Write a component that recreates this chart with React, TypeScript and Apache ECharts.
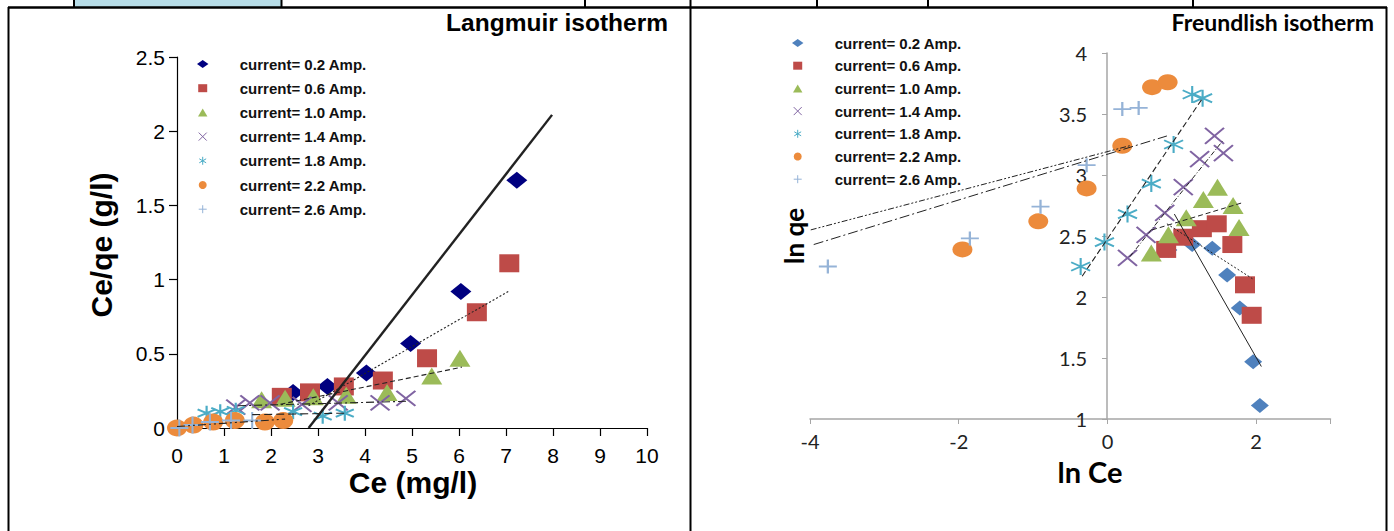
import React, { useEffect, useRef } from "react";
import * as echarts from "echarts";

// ---------- DATA ----------
const CURRENTS = [
  "current= 0.2 Amp.",
  "current= 0.6 Amp.",
  "current= 1.0 Amp.",
  "current= 1.4 Amp.",
  "current= 1.8 Amp.",
  "current= 2.2 Amp.",
  "current= 2.6 Amp.",
];

// Langmuir isotherm: [Ce (mg/l), Ce/qe (g/l)]
const lang02 = [[2.47, 0.24], [3.2, 0.28], [4.03, 0.37], [4.97, 0.57], [6.04, 0.92], [7.23, 1.67]];
const lang06 = [[2.23, 0.21], [2.83, 0.24], [3.55, 0.28], [4.38, 0.32], [5.32, 0.47], [6.38, 0.78], [7.07, 1.11]];
const lang10 = [[1.8, 0.19], [2.3, 0.2], [2.9, 0.21], [3.6, 0.22], [4.47, 0.24], [5.42, 0.35], [6.02, 0.47]];
const lang14 = [[1.25, 0.14], [1.55, 0.17], [1.98, 0.17], [2.66, 0.16], [3.43, 0.17], [4.32, 0.17], [4.87, 0.2]];
const lang18 = [[0.63, 0.1], [0.92, 0.11], [1.25, 0.12], [2.47, 0.11], [3.1, 0.08], [3.57, 0.1]];
const lang22 = [[0.0, 0.0], [0.35, 0.02], [0.77, 0.04], [1.23, 0.05], [1.87, 0.04], [2.26, 0.05]];
const lang26 = [[0.05, 0.0], [0.33, 0.02], [0.7, 0.04], [1.15, 0.05], [1.6, 0.05]];

// Langmuir trend lines (end points)
const langTrend02 = [[2.8, 0], [7.98, 2.11]];
const langTrend06 = [[2.8, 0.15], [7.05, 0.92]];
const langTrend10 = [[2.2, 0.16], [6.06, 0.41]];
const langTrend14 = [[1.3, 0.15], [4.9, 0.18]];
const langTrend18 = [[1.6, 0.09], [3.6, 0.1]];
const langTrend22 = [[0.0, 0.01], [2.3, 0.06]];

// Freundlich isotherm: [ln Ce, ln qe]
const freu02 = [[0.82, 2.385], [1.14, 2.43], [1.41, 2.4], [1.61, 2.18], [1.78, 1.91], [1.96, 1.47], [2.05, 1.11]];
const freu06 = [[0.79, 2.39], [1.02, 2.49], [1.27, 2.56], [1.47, 2.6], [1.68, 2.43], [1.85, 2.1], [1.94, 1.85]];
const freu10 = [[0.59, 2.36], [0.82, 2.51], [1.06, 2.65], [1.29, 2.8], [1.48, 2.9], [1.69, 2.75], [1.77, 2.57]];
const freu14 = [[0.27, 2.32], [0.52, 2.51], [0.77, 2.69], [1.02, 2.9], [1.24, 3.13], [1.44, 3.32], [1.56, 3.18]];
const freu18 = [[-0.36, 2.25], [-0.04, 2.45], [0.27, 2.68], [0.59, 2.93], [0.89, 3.25], [1.14, 3.66], [1.28, 3.63]];
const freu22 = [[-1.95, 2.39], [-0.93, 2.62], [-0.28, 2.89], [0.2, 3.24], [0.6, 3.72], [0.81, 3.76]];
const freu26 = [[-3.76, 2.25], [-1.85, 2.48], [-0.9, 2.74], [-0.28, 3.08], [0.2, 3.54], [0.42, 3.55]];

// Freundlich trend lines (end points)
const freuTrend02 = [[0.9, 2.68], [2.07, 1.43]];
const freuTrend06 = [[0.8, 2.6], [1.95, 2.15]];
const freuTrend10 = [[0.6, 2.55], [1.8, 2.77]];
const freuTrend14 = [[0.3, 2.33], [1.55, 3.28]];
const freuTrend18 = [[-0.34, 2.17], [1.28, 3.63]];
const freuTrend22 = [[-3.95, 2.43], [0.8, 3.32]];
const freuTrend26 = [[-3.99, 2.55], [0.3, 3.24]];

// ---------- STYLES ----------
const X_MARK = "path://M0,0L10,10M10,0L0,10";
const STAR_MARK = "path://M5,0L5,10M0.7,2.5L9.3,7.5M0.7,7.5L9.3,2.5";
const PLUS_MARK = "path://M5,0L5,10M0,5L10,5";
const DIAMOND_ICON = "path://M0,3.5L5,0L10,3.5L5,7Z";
const RECT_ICON = "path://M0,0L9,0L9,8L0,8Z";
const TRI_ICON = "path://M5,0L10,8.5L0,8.5Z";

const RED = "#be4b48";
const GREEN = "#9bbb59";
const PURPLE = "#8064a2";
const CYAN = "#4bacc6";
const ORANGE = "#ec8b3c";
const LIGHTBLUE = "#95b3d7";

type Mk = { symbol: string; icon: string; color: string; stroke: boolean; size: number[] };

const langMarks: Mk[] = [
  { symbol: "diamond", icon: DIAMOND_ICON, color: "#000080", stroke: false, size: [21, 17] },
  { symbol: "rect", icon: RECT_ICON, color: RED, stroke: false, size: [20, 18] },
  { symbol: "triangle", icon: TRI_ICON, color: GREEN, stroke: false, size: [21, 17] },
  { symbol: X_MARK, icon: X_MARK, color: PURPLE, stroke: true, size: [19, 15] },
  { symbol: STAR_MARK, icon: STAR_MARK, color: CYAN, stroke: true, size: [18, 15] },
  { symbol: "circle", icon: "circle", color: ORANGE, stroke: false, size: [20, 17] },
  { symbol: PLUS_MARK, icon: PLUS_MARK, color: LIGHTBLUE, stroke: true, size: [18, 17] },
];
const freuMarks: Mk[] = [
  { symbol: "diamond", icon: DIAMOND_ICON, color: "#4f81bd", stroke: false, size: [18, 15] },
  { symbol: "rect", icon: RECT_ICON, color: RED, stroke: false, size: [20, 17] },
  { symbol: "triangle", icon: TRI_ICON, color: GREEN, stroke: false, size: [21, 17] },
  { symbol: X_MARK, icon: X_MARK, color: PURPLE, stroke: true, size: [19, 16] },
  { symbol: STAR_MARK, icon: STAR_MARK, color: CYAN, stroke: true, size: [19, 17] },
  { symbol: "circle", icon: "circle", color: ORANGE, stroke: false, size: [20, 16] },
  { symbol: PLUS_MARK, icon: PLUS_MARK, color: LIGHTBLUE, stroke: true, size: [18, 14] },
];

const langData = [lang02, lang06, lang10, lang14, lang18, lang22, lang26];
const freuData = [freu02, freu06, freu10, freu14, freu18, freu22, freu26];

const langTrends = [
  { data: langTrend02, type: "solid", width: 2.4 },
  { data: langTrend06, type: [2, 2], width: 1.1 },
  { data: langTrend10, type: [5, 3], width: 1.1 },
  { data: langTrend14, type: [8, 3, 2, 3], width: 1.1 },
  { data: langTrend18, type: [8, 4], width: 1.1 },
  { data: langTrend22, type: [8, 3, 2, 3, 2, 3], width: 1.1 },
];
const freuTrends = [
  { data: freuTrend02, type: "solid", width: 1 },
  { data: freuTrend06, type: [2, 2], width: 1 },
  { data: freuTrend10, type: [5, 3], width: 1 },
  { data: freuTrend14, type: [5, 2, 1, 2], width: 1 },
  { data: freuTrend18, type: [6, 3], width: 1.1 },
  { data: freuTrend22, type: [10, 3, 2, 3], width: 1 },
  { data: freuTrend26, type: [6, 2, 2, 2, 2, 2], width: 1 },
];

function scatterSeries(name: string, data: number[][], mk: Mk, axisIndex: number) {
  return {
    name,
    type: "scatter",
    xAxisIndex: axisIndex,
    yAxisIndex: axisIndex,
    symbol: mk.symbol,
    symbolSize: mk.size,
    data,
    itemStyle: mk.stroke
      ? { color: mk.color, borderColor: mk.color, borderWidth: 2, opacity: 1 }
      : { color: mk.color, borderWidth: 0, opacity: 1 },
    emphasis: { disabled: true },
  };
}

function trendSeries(name: string, t: any, axisIndex: number) {
  return {
    name,
    type: "line",
    xAxisIndex: axisIndex,
    yAxisIndex: axisIndex,
    data: t.data,
    symbol: "none",
    silent: true,
    z: 5,
    lineStyle: { color: "#222", width: t.width, type: t.type },
    emphasis: { disabled: true },
  };
}

function legendData(marks: Mk[]) {
  return CURRENTS.map((name, i) => ({
    name,
    icon: marks[i].icon,
    itemStyle: marks[i].stroke
      ? { color: "rgba(0,0,0,0)", borderColor: marks[i].color, borderWidth: 1 }
      : { color: marks[i].color, borderWidth: 0 },
  }));
}

const legendText = { fontFamily: "Liberation Sans", fontWeight: "bold", fontSize: 15, color: "#111" };

export default function App() {
  const ref = useRef<HTMLDivElement>(null);
  useEffect(() => {
    if (!ref.current) return;
    const chart = echarts.init(ref.current, null, { renderer: "svg" });

    const series: any[] = [];
    CURRENTS.forEach((n, i) => series.push(scatterSeries(n, langData[i], langMarks[i], 0)));
    CURRENTS.forEach((n, i) => series.push(scatterSeries(n, freuData[i], freuMarks[i], 1)));
    langTrends.forEach((t, i) => series.push(trendSeries("Langmuir trend " + (i + 1), t, 0)));
    freuTrends.forEach((t, i) => series.push(trendSeries("Freundlich trend " + (i + 1), t, 1)));

    const border = "#000";
    const option: any = {
      animation: false,
      backgroundColor: "#ffffff",
      grid: [
        { left: 177, top: 57, width: 470, height: 371, containLabel: false },
        { left: 810, top: 53, width: 520.5, height: 366, containLabel: false },
      ],
      xAxis: [
        {
          gridIndex: 0,
          type: "value",
          min: 0,
          max: 10,
          interval: 1,
          splitLine: { show: false },
          axisLine: { show: true, onZero: false, lineStyle: { color: "#000", width: 1.2 } },
          axisTick: { show: true, length: 8, lineStyle: { color: "#000", width: 1.2 } },
          axisLabel: { fontFamily: "Liberation Sans", fontSize: 21, color: "#000", margin: 17 },
        },
        {
          gridIndex: 1,
          type: "value",
          min: -4,
          max: 3,
          interval: 2,
          splitLine: { show: false },
          axisLine: { show: true, onZero: false, lineStyle: { color: "#a6a6a6", width: 1.5 } },
          axisTick: { show: true, length: 5, lineStyle: { color: "#a6a6a6" } },
          axisLabel: {
            fontFamily: "Lato",
            fontSize: 20,
            color: "#222",
            margin: 12,
            formatter: (v: number) => (v === 3 ? "" : String(v)),
          },
        },
      ],
      yAxis: [
        {
          gridIndex: 0,
          type: "value",
          min: 0,
          max: 2.5,
          interval: 0.5,
          splitLine: { show: false },
          axisLine: { show: true, onZero: false, lineStyle: { color: "#000", width: 1.2 } },
          axisTick: { show: true, length: 8, lineStyle: { color: "#000", width: 1.2 } },
          axisLabel: { fontFamily: "Liberation Sans", fontSize: 21, color: "#000", margin: 12 },
        },
        {
          gridIndex: 1,
          type: "value",
          min: 1,
          max: 4,
          interval: 0.5,
          position: "left",
          offset: -297,
          splitLine: { show: false },
          axisLine: { show: true, onZero: false, lineStyle: { color: "#a6a6a6", width: 1.5 } },
          axisTick: { show: true, length: 5, lineStyle: { color: "#a6a6a6" } },
          axisLabel: { fontFamily: "Lato", fontSize: 20, color: "#222", margin: 20 },
        },
      ],
      legend: [
        {
          orient: "vertical",
          left: 197,
          top: 56.5,
          padding: 0,
          itemWidth: 64,
          itemHeight: 8,
          itemGap: 9.2,
          symbolKeepAspect: true,
          textStyle: legendText,
          data: legendData(langMarks),
          selectedMode: false,
        },
        {
          orient: "vertical",
          left: 792,
          top: 35.5,
          padding: 0,
          itemWidth: 64,
          itemHeight: 8,
          itemGap: 7.7,
          symbolKeepAspect: true,
          textStyle: legendText,
          data: legendData(freuMarks),
          selectedMode: false,
        },
      ],
      graphic: [
        // table frame
        { type: "rect", shape: { x: 75, y: 0, width: 206, height: 7 }, style: { fill: "#b7dde8" }, z: 0 },
        { type: "line", shape: { x1: 74, y1: 0, x2: 74, y2: 8 }, style: { stroke: border, lineWidth: 2 } },
        { type: "line", shape: { x1: 281.5, y1: 0, x2: 281.5, y2: 8 }, style: { stroke: border, lineWidth: 2 } },
        { type: "line", shape: { x1: 585, y1: 0, x2: 585, y2: 8 }, style: { stroke: border, lineWidth: 2 } },
        { type: "line", shape: { x1: 817, y1: 0, x2: 817, y2: 8 }, style: { stroke: border, lineWidth: 2 } },
        { type: "line", shape: { x1: 928, y1: 0, x2: 928, y2: 8 }, style: { stroke: border, lineWidth: 2 } },
        { type: "line", shape: { x1: 1193, y1: 0, x2: 1193, y2: 8 }, style: { stroke: border, lineWidth: 2 } },
        { type: "line", shape: { x1: 8, y1: 7.5, x2: 1387, y2: 7.5 }, style: { stroke: border, lineWidth: 2.5 } },
        { type: "line", shape: { x1: 8.5, y1: 7, x2: 8.5, y2: 531 }, style: { stroke: border, lineWidth: 2 } },
        { type: "line", shape: { x1: 690.5, y1: 0, x2: 690.5, y2: 531 }, style: { stroke: border, lineWidth: 2 } },
        { type: "line", shape: { x1: 1386.5, y1: 7, x2: 1386.5, y2: 531 }, style: { stroke: border, lineWidth: 2 } },
        // titles
        {
          type: "text",
          x: 668,
          y: 22,
          style: { text: "Langmuir isotherm", fontFamily: "Liberation Sans", fontWeight: "bold", fontSize: 24.5, fill: "#000", align: "right", verticalAlign: "middle" },
        },
        {
          type: "text",
          x: 1374,
          y: 22,
          style: { text: "Freundlish isotherm", fontFamily: "Lato", fontWeight: "bold", fontSize: 23, fill: "#000", align: "right", verticalAlign: "middle" },
        },
        // axis names
        {
          type: "text",
          x: 101,
          y: 245,
          rotation: Math.PI / 2,
          style: { text: "Ce/qe (g/l)", fontFamily: "Liberation Sans", fontWeight: "bold", fontSize: 30, fill: "#000", align: "center", verticalAlign: "middle" },
        },
        {
          type: "text",
          x: 413,
          y: 482,
          style: { text: "Ce (mg/l)", fontFamily: "Liberation Sans", fontWeight: "bold", fontSize: 30, fill: "#000", align: "center", verticalAlign: "middle" },
        },
        {
          type: "text",
          x: 794,
          y: 236,
          rotation: Math.PI / 2,
          style: { text: "ln qe", fontFamily: "Lato", fontWeight: "bold", fontSize: 26, fill: "#000", align: "center", verticalAlign: "middle" },
        },
        {
          type: "text",
          x: 1090,
          y: 471,
          style: { text: "ln Ce", fontFamily: "Lato", fontWeight: "bold", fontSize: 29, fill: "#000", align: "center", verticalAlign: "middle" },
        },
      ],
      series,
    };
    chart.setOption(option);
    return () => chart.dispose();
  }, []);

  return (
    <div
      ref={ref}
      style={{ position: "fixed", left: 0, top: 0, width: 1394, height: 531, background: "#fff" }}
    />
  );
}
